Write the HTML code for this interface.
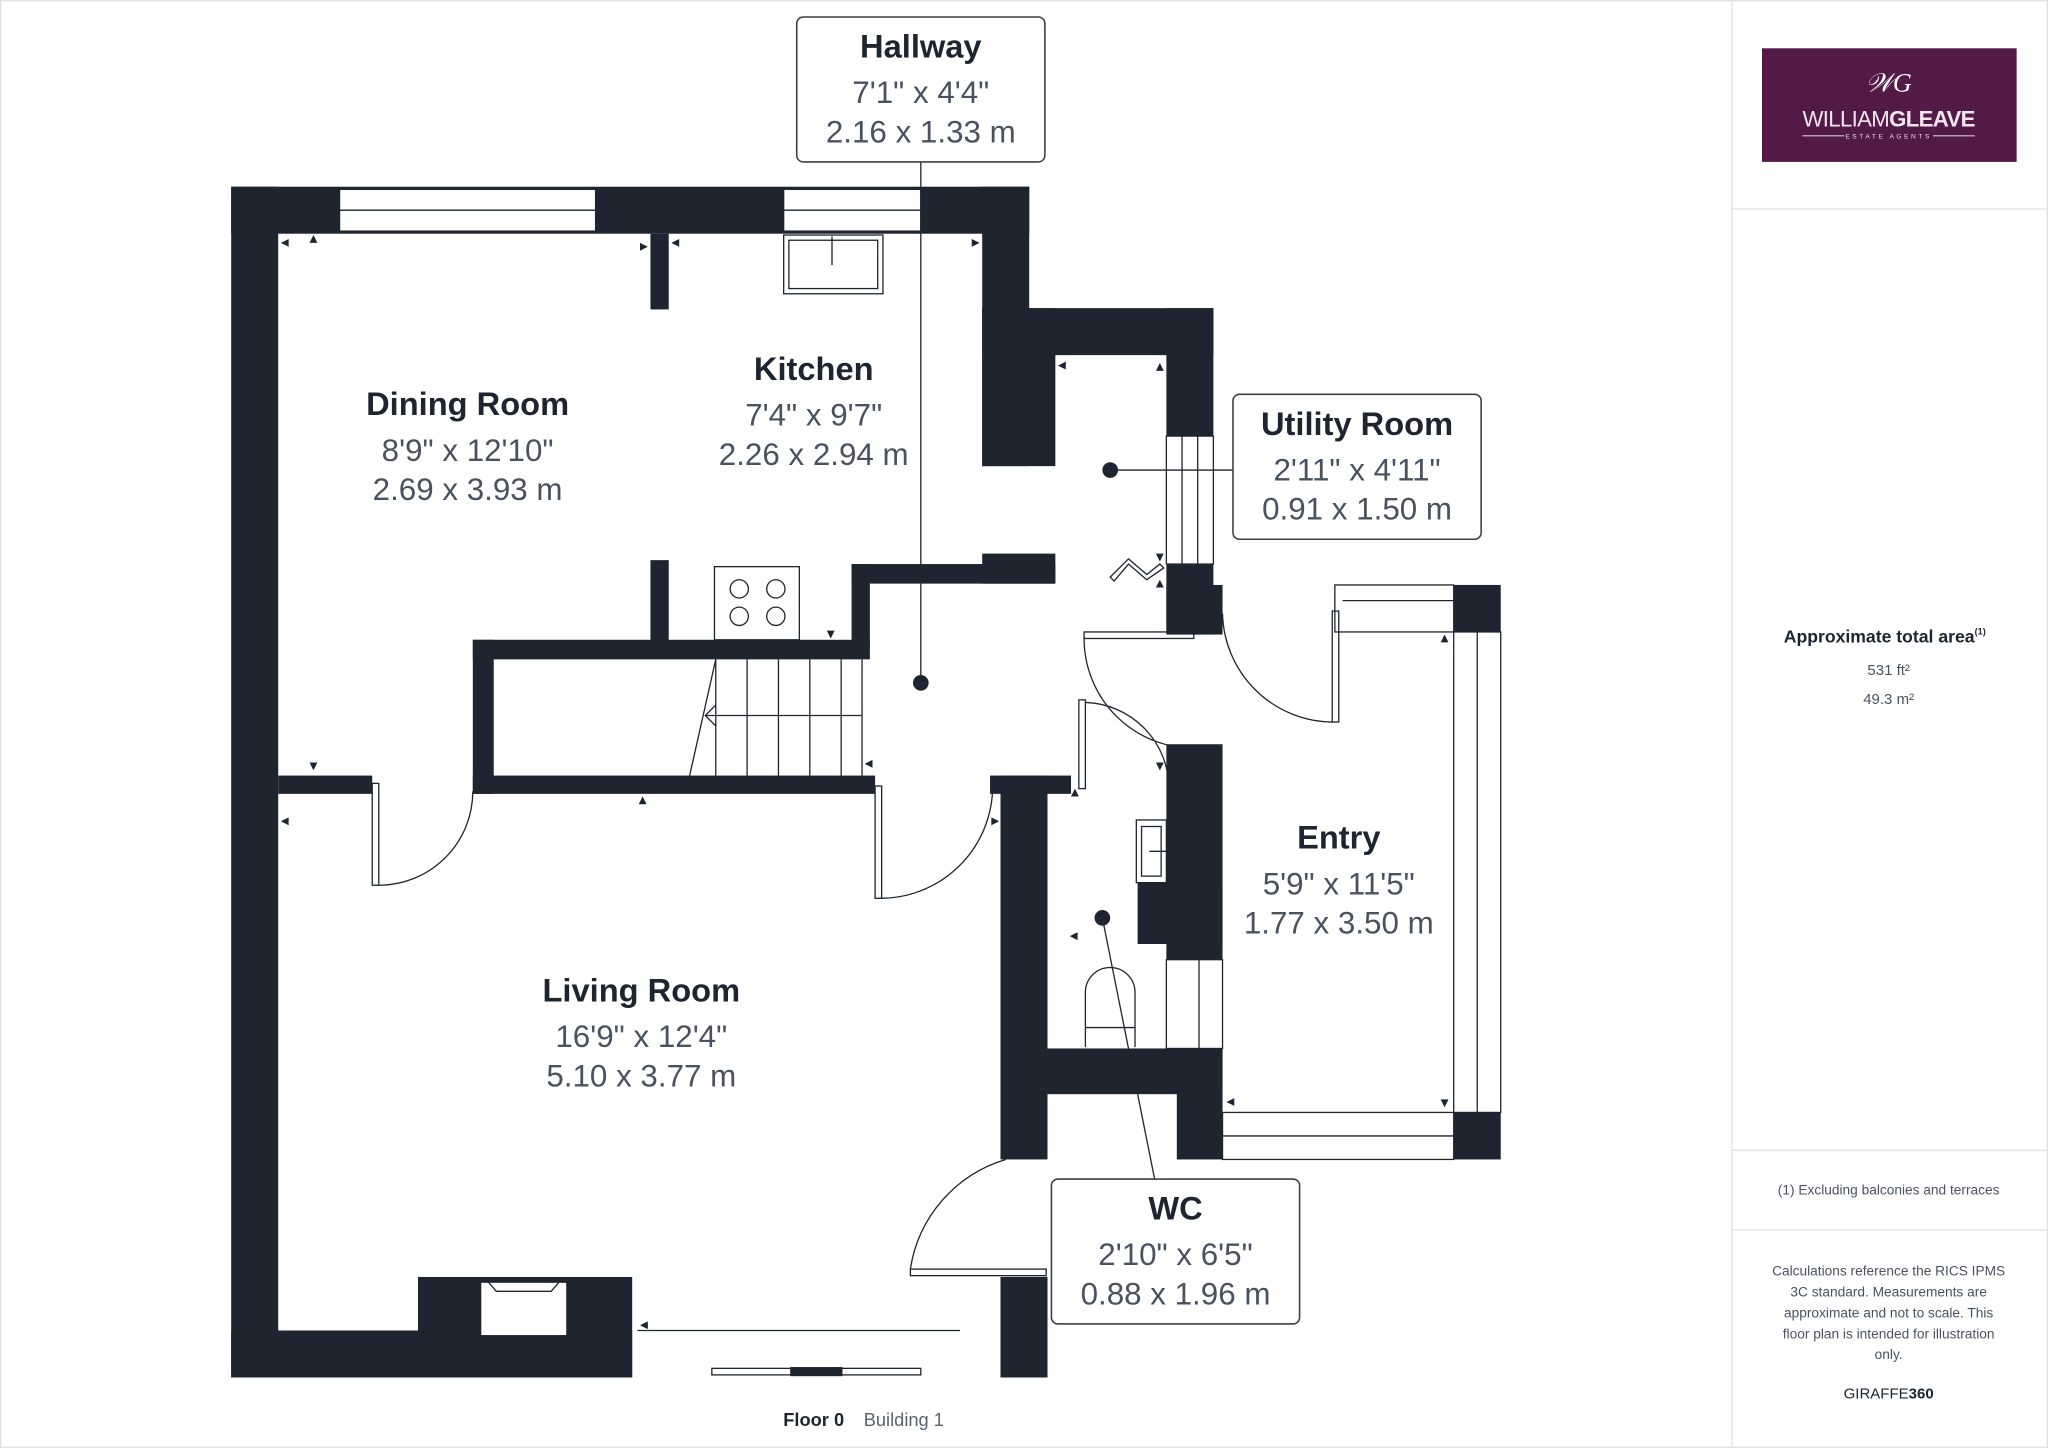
<!DOCTYPE html>
<html><head><meta charset="utf-8"><style>
html,body{margin:0;padding:0;background:#fff}
svg{display:block}
.t{font-family:"Liberation Sans",sans-serif}
</style></head><body>
<svg width="2048" height="1448" viewBox="0 0 1568 1109" preserveAspectRatio="none" xmlns="http://www.w3.org/2000/svg">
<rect x="0" y="0" width="1568" height="1109" fill="#fff"/>
<rect x="0.5" y="0.5" width="1567" height="1108" fill="none" stroke="#e2e2e2"/>
<!-- right panel -->
<line x1="1326" y1="0" x2="1326" y2="1109" stroke="#e2e2e2"/>
<line x1="1326" y1="160" x2="1568" y2="160" stroke="#e2e2e2"/>
<line x1="1326" y1="881" x2="1568" y2="881" stroke="#e2e2e2"/>
<line x1="1326" y1="942" x2="1568" y2="942" stroke="#e2e2e2"/>
<rect x="1349" y="37" width="195" height="87" fill="#531a48"/>
<text x="1446" y="70" text-anchor="middle" font-size="20" font-style="italic" fill="#fff" font-family="Liberation Serif,serif">&#x1D4B2;G</text>
<text x="1446" y="97" text-anchor="middle" class="t" font-size="17" fill="#f0e6ee" letter-spacing="-0.5">WILLIAM<tspan font-weight="bold">GLEAVE</tspan></text>
<line x1="1380" y1="104" x2="1412" y2="104" stroke="#d8c8d4" stroke-width="0.8"/>
<line x1="1480" y1="104" x2="1512" y2="104" stroke="#d8c8d4" stroke-width="0.8"/>
<text x="1446" y="106" text-anchor="middle" class="t" font-size="5" fill="#e8dde6" letter-spacing="2">ESTATE AGENTS</text>
<text x="1443" y="492" text-anchor="middle" class="t" font-size="13.5" font-weight="bold" fill="#1e2530">Approximate total area<tspan font-size="7" dy="-6">(1)</tspan></text>
<text x="1446" y="517" text-anchor="middle" class="t" font-size="11.5" fill="#4a5260">531 ft²</text>
<text x="1446" y="539" text-anchor="middle" class="t" font-size="11.5" fill="#4a5260">49.3 m²</text>
<text x="1446" y="915" text-anchor="middle" class="t" font-size="10.5" fill="#4a5260">(1) Excluding balconies and terraces</text>
<g class="t" font-size="10.5" fill="#4a5260" text-anchor="middle">
<text x="1446" y="977">Calculations reference the RICS IPMS</text>
<text x="1446" y="993">3C standard. Measurements are</text>
<text x="1446" y="1009">approximate and not to scale. This</text>
<text x="1446" y="1025">floor plan is intended for illustration</text>
<text x="1446" y="1041">only.</text>
</g>
<text x="1446" y="1071" text-anchor="middle" class="t" font-size="11.5" fill="#1e2530">GIRAFFE<tspan font-weight="bold">360</tspan></text>
<text x="623" y="1092" text-anchor="middle" class="t" font-size="14" font-weight="bold" fill="#1e2530">Floor 0</text>
<text x="692" y="1092" text-anchor="middle" class="t" font-size="14" fill="#5a6270">Building 1</text>

<!-- walls -->
<g fill="#1e2530">
<rect x="177" y="143" width="611" height="36"/>
<rect x="177" y="143" width="36" height="912"/>
<rect x="177" y="1019" width="307" height="36"/>
<rect x="320" y="978" width="164" height="77"/>
<rect x="752" y="143" width="36" height="214"/>
<rect x="752" y="236" width="177" height="36"/>
<rect x="752" y="236" width="56" height="121"/>
<rect x="893" y="236" width="36" height="98"/>
<rect x="893" y="432" width="36" height="54"/>
<rect x="893" y="448" width="43" height="38"/>
<rect x="652" y="432" width="156" height="15"/>
<rect x="752" y="424" width="56" height="23"/>
<rect x="652" y="432" width="14" height="65"/>
<rect x="498" y="179" width="14" height="58"/>
<rect x="498" y="429" width="14" height="68"/>
<rect x="362" y="490" width="304" height="15"/>
<rect x="362" y="490" width="16" height="118"/>
<rect x="362" y="594" width="308" height="14"/>
<rect x="213" y="594" width="72" height="14"/>
<rect x="758" y="594" width="62" height="14"/>
<rect x="766" y="594" width="36" height="294"/>
<rect x="893" y="570" width="43" height="165"/>
<rect x="871" y="676" width="65" height="47"/>
<rect x="802" y="803" width="134" height="35"/>
<rect x="901" y="803" width="35" height="85"/>
<rect x="1113" y="448" width="36" height="36"/>
<rect x="1113" y="852" width="36" height="36"/>
<rect x="766" y="978" width="36" height="77"/>
</g>
<!-- windows -->
<g fill="#fff" stroke="#1e2530" stroke-width="1">
<rect x="260" y="145" width="196" height="32"/>
<line x1="260" y1="161" x2="456" y2="161"/>
<rect x="600" y="145" width="105" height="32"/>
<line x1="600" y1="161" x2="705" y2="161"/>
<rect x="893" y="334" width="36" height="98"/>
<line x1="905" y1="334" x2="905" y2="432"/><line x1="917" y1="334" x2="917" y2="432"/>
<rect x="1022" y="448" width="91" height="36"/>
<line x1="1028" y1="460" x2="1113" y2="460"/>
<rect x="1113" y="484" width="36" height="368"/>
<line x1="1131" y1="484" x2="1131" y2="852"/>
<rect x="936" y="852" width="177" height="36"/>
<line x1="936" y1="870" x2="1113" y2="870"/>
<rect x="545" y="1048" width="160" height="5"/>
<rect x="893" y="735" width="43" height="68"/>
<line x1="918" y1="735" x2="918" y2="803"/>
<rect x="368" y="982" width="66" height="41"/>
<rect x="870" y="628" width="23" height="48"/>
</g>
<rect x="605" y="1047" width="40" height="7" fill="#1e2530"/>
<!-- doors, fixtures -->
<g fill="none" stroke="#1e2530" stroke-width="1">
<rect x="285" y="600" width="5" height="78"/>
<path d="M290 678 A72 72 0 0 0 362 606"/>
<rect x="670" y="602" width="5" height="86"/>
<path d="M675 688 A86 86 0 0 0 760 602"/>
<rect x="830" y="484" width="84" height="5"/>
<path d="M830 489 A84 84 0 0 0 914 573"/>
<rect x="826" y="536" width="5" height="68"/>
<path d="M831 538 A66 66 0 0 1 895 604"/>
<rect x="1020" y="468" width="5" height="85"/>
<path d="M936 470 A85 85 0 0 0 1020 553"/>
<rect x="697" y="972" width="104" height="5"/>
<path d="M697 972 A104 104 0 0 1 770 888"/>
<path d="M850 442 L864 428 L878 440 L888 432 L891 435 L878 444 L864 432 L853 445 Z"/>
<rect x="600" y="180" width="76" height="45"/><rect x="604" y="184" width="68" height="37"/>
<line x1="637" y1="181" x2="637" y2="203"/>
<rect x="547" y="434" width="65" height="56"/>
<circle cx="566" cy="451" r="7"/><circle cx="594" cy="451" r="7"/>
<circle cx="566" cy="472" r="7"/><circle cx="594" cy="472" r="7"/>
<path d="M374 982 L380 989 L422 989 L428 982"/>
<rect x="874" y="633" width="15" height="38"/>
<line x1="880" y1="652" x2="893" y2="652"/>
<path d="M831 802 L831 760 A19 19 0 0 1 869 760 L869 802"/>
<line x1="831" y1="787" x2="869" y2="787"/>
<line x1="548" y1="505" x2="548" y2="594"/>
<line x1="572" y1="505" x2="572" y2="594"/>
<line x1="596" y1="505" x2="596" y2="594"/>
<line x1="620" y1="505" x2="620" y2="594"/>
<line x1="644" y1="505" x2="644" y2="594"/>
<line x1="660" y1="505" x2="660" y2="594"/>
<line x1="540" y1="548" x2="660" y2="548"/>
<line x1="548" y1="505" x2="528" y2="594"/>
<path d="M548 540 L540 548 L548 556"/>
<line x1="488" y1="1019" x2="735" y2="1019"/>
</g>
<!-- small arrow markers -->
<g fill="#1e2530">
<polygon points="215,186 221,183 221,189"/><polygon points="240,180 237,186 243,186"/>
<polygon points="496,189 490,186 490,192"/><polygon points="514,186 520,183 520,189"/>
<polygon points="750,186 744,183 744,189"/><polygon points="810,280 816,277 816,283"/>
<polygon points="888,278 885,284 891,284"/><polygon points="636,489 633,483 639,483"/>
<polygon points="240,590 237,584 243,584"/><polygon points="215,629 221,626 221,632"/>
<polygon points="492,610 489,616 495,616"/><polygon points="662,585 668,582 668,588"/>
<polygon points="765,629 759,626 759,632"/><polygon points="823,604 820,610 826,610"/>
<polygon points="819,717 825,714 825,720"/><polygon points="891,717 885,714 885,720"/>
<polygon points="822,822 819,816 825,816"/><polygon points="939,844 945,841 945,847"/>
<polygon points="1106,848 1103,842 1109,842"/><polygon points="1106,486 1103,492 1109,492"/>
<polygon points="888,590 885,584 891,584"/><polygon points="888,430 885,424 891,424"/>
<polygon points="888,444 885,450 891,450"/><polygon points="490,1015 496,1012 496,1018"/>
</g>
<!-- leader lines & dots -->
<g stroke="#1e2530" stroke-width="1">
<line x1="705" y1="124" x2="705" y2="523"/>
<line x1="850" y1="360" x2="944" y2="360"/>
<line x1="844" y1="703" x2="884" y2="903"/>
</g>
<circle cx="705" cy="523" r="6" fill="#1e2530"/>
<circle cx="850" cy="360" r="6" fill="#1e2530"/>
<circle cx="844" cy="703" r="6" fill="#1e2530"/>
<!-- label boxes -->
<g fill="#fff" stroke="#3a3f47" stroke-width="1.2">
<rect x="610" y="13" width="190" height="111" rx="5"/>
<rect x="944" y="302" width="190" height="111" rx="5"/>
<rect x="805" y="903" width="190" height="111" rx="5"/>
</g>
<g class="t" text-anchor="middle">
<g font-size="25" font-weight="bold" fill="#1e2530">
<text x="705" y="44">Hallway</text>
<text x="1039" y="333">Utility Room</text>
<text x="900" y="934">WC</text>
<text x="358" y="318">Dining Room</text>
<text x="623" y="291">Kitchen</text>
<text x="491" y="767">Living Room</text>
<text x="1025" y="650">Entry</text>
</g>
<g font-size="24" fill="#4a5260">
<text x="705" y="79">7'1" x 4'4"</text><text x="705" y="109">2.16 x 1.33 m</text>
<text x="1039" y="368">2'11" x 4'11"</text><text x="1039" y="398">0.91 x 1.50 m</text>
<text x="900" y="969">2'10" x 6'5"</text><text x="900" y="999">0.88 x 1.96 m</text>
<text x="358" y="353">8'9" x 12'10"</text><text x="358" y="383">2.69 x 3.93 m</text>
<text x="623" y="326">7'4" x 9'7"</text><text x="623" y="356">2.26 x 2.94 m</text>
<text x="491" y="802">16'9" x 12'4"</text><text x="491" y="832">5.10 x 3.77 m</text>
<text x="1025" y="685">5'9" x 11'5"</text><text x="1025" y="715">1.77 x 3.50 m</text>
</g>
</g>
</svg>
</body></html>
